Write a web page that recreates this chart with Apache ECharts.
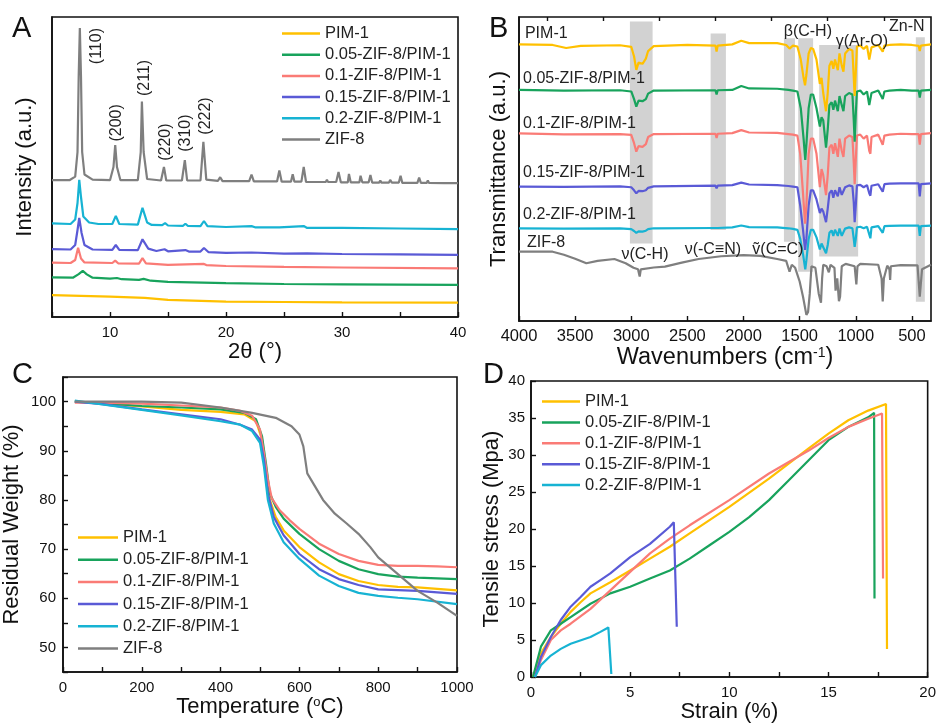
<!DOCTYPE html>
<html><head><meta charset="utf-8">
<script src="https://cdn.jsdelivr.net/npm/echarts@6/dist/echarts.min.js"></script>
<style>html,body{margin:0;padding:0;background:#fff}#c{width:939px;height:727px}</style>
</head><body><div id="c"></div>
<script>
// ---------- DATA ----------
const seriesNames = ['PIM-1','0.05-ZIF-8/PIM-1','0.1-ZIF-8/PIM-1','0.15-ZIF-8/PIM-1','0.2-ZIF-8/PIM-1','ZIF-8'];

// A: XRD  [2theta, intensity (a.u.)]
const xrdPIM1 = [[5,7.3],[10,6.8],[13,6.4],[15,5.7],[20,5.1],[25,5],[30,4.9],[40,4.8]];
const xrdZ005 = [[5,13.2],[6.8,13.1],[7.3,14.3],[7.65,15.4],[8.0,14.2],[8.5,13.1],[10,12.8],[10.6,13],[11,12.6],[12.5,12.4],[12.9,12.7],[13.5,12.1],[15,11.7],[20,11.3],[25,11],[30,10.9],[40,10.7]];
const xrdZ01 = [[5,18.1],[6.6,18],[7.0,19],[7.25,23.1],[7.5,19.5],[7.8,18.2],[10.2,18],[10.45,18.8],[10.7,17.9],[12.5,17.8],[12.8,19.6],[13.1,17.9],[15,17.4],[18.1,17.7],[18.3,17.3],[20,17],[25,16.7],[30,16.5],[40,16.2]];
const xrdZ015 = [[5,22.6],[6.6,22.5],[7.0,24],[7.2,29],[7.35,33],[7.55,28],[7.8,24],[8.5,22.5],[10.2,22.4],[10.5,24],[10.8,22.4],[12.4,22.3],[12.8,25.9],[13.3,22.8],[14,22],[14.7,22.6],[15,21.9],[16.5,22.3],[16.8,21.8],[17.8,21.8],[18.1,23],[18.5,21.6],[20,21.4],[22.2,21.5],[25,21.1],[27,21.2],[30,21],[35,20.9],[40,20.7]];
const xrdZ02 = [[5,31.2],[6.6,31],[7.0,32.5],[7.2,38],[7.35,45.7],[7.5,40],[7.7,33.5],[8.2,31.5],[9,31],[10.2,31],[10.5,33.7],[10.8,31],[12.4,30.8],[12.8,36.4],[13.2,31.5],[13.6,30.7],[14.5,30.6],[14.75,31.3],[15,30.5],[16.3,30.4],[16.5,31.1],[16.7,30.4],[17.8,30.3],[18.1,32],[18.4,30.3],[20,30],[22.2,30.3],[22.5,29.9],[24.6,29.9],[26.7,30.3],[27,29.7],[30,29.7],[35,29.5],[40,29.3]];
const xrdZIF8 = [[5,45.6],[6.5,45.6],[7.0,46.8],[7.2,55],[7.3,80],[7.4,96.3],[7.5,80],[7.6,55],[7.8,47.5],[8.5,45.8],[10.0,45.6],[10.3,50],[10.45,57.3],[10.6,50],[10.9,45.6],[12.4,45.6],[12.65,55],[12.75,71.8],[12.9,55],[13.2,46],[14.4,45.5],[14.65,50],[14.85,45.5],[16.2,45.5],[16.45,52.3],[16.65,45.5],[17.8,45.5],[18.05,58.4],[18.3,45.8],[19.3,45.4],[19.5,46.6],[19.7,45.3],[22.0,45.3],[22.2,47.5],[22.4,45.2],[23.4,45.2],[23.5,45.8],[23.6,45.2],[24.4,45.2],[24.6,48.8],[24.8,45.1],[25.6,45.1],[25.75,47.6],[25.9,45.1],[26.5,45.1],[26.7,50],[26.9,45],[28.6,45],[28.7,45.7],[28.8,45],[29.5,45],[29.7,48.3],[29.9,44.9],[30.5,44.9],[30.6,47.7],[30.75,44.9],[31.5,44.9],[31.6,47.1],[31.75,44.9],[32.3,44.9],[32.45,47.3],[32.6,44.8],[33.2,44.8],[33.3,45.5],[33.4,44.8],[34.05,44.8],[34.15,45.7],[34.3,44.8],[34.9,44.8],[35.05,47.1],[35.2,44.7],[36.5,44.7],[36.65,46.5],[36.8,44.7],[37.3,44.7],[37.4,45.5],[37.5,44.7],[38.8,44.6],[38.9,45.2],[39.0,44.6],[39.5,44.6],[39.6,45.2],[39.7,44.6],[40,44.6]];
const xrdPeakLabels = [['(110)',8.88,90.3],['(200)',10.6,64.7],['(211)',13.0,79.7],['(220)',14.83,58.3],['(310)',16.55,61.3],['(222)',18.28,67]];

// B: FTIR  [wavenumber, transmittance (a.u.)]
const irPIM1 = [[4000,91],[3700,90.8],[3580,89.8],[3450,90.5],[3100,90.7],[3000,90.2],[2975,87],[2955,82.6],[2935,85],[2900,84.6],[2870,86.3],[2850,88.8],[2800,90.4],[2500,90.8],[2250,90.6],[2240,88.6],[2230,90.6],[2100,91],[2020,92.2],[1950,91.4],[1700,91.4],[1620,90.8],[1590,89.6],[1560,90.6],[1520,90.3],[1490,86],[1465,80],[1452,77.5],[1440,81],[1420,88],[1400,89.8],[1380,89.5],[1350,86],[1320,78],[1305,80],[1290,75],[1265,69],[1250,75],[1235,84],[1215,85.5],[1200,83],[1185,86],[1160,82.5],[1145,88],[1125,84],[1110,82],[1095,88],[1060,89.5],[1030,89],[1018,80],[1010,74],[1000,82],[990,90.3],[960,90.6],[930,89.5],[900,90.5],[880,86],[870,85.5],[860,90],[800,90.8],[760,88.6],[745,90.6],[700,90.8],[600,91],[500,90.8],[440,90.5],[430,88.8],[420,90.6],[330,91]];
const irZ005 = [[4000,76],[3600,75.8],[3100,75.9],[3000,75.5],[2975,73],[2955,70.5],[2935,72.5],[2900,72.3],[2870,73],[2850,74.8],[2800,75.8],[2250,75.9],[2240,74.5],[2230,75.9],[2100,76],[2020,77.3],[1950,76.5],[1700,76.4],[1600,76],[1560,75.8],[1520,75.5],[1490,70],[1465,60],[1450,53],[1440,58],[1420,70],[1400,74.5],[1380,74.5],[1350,70],[1320,64],[1305,67],[1290,66],[1265,57],[1250,63],[1235,71],[1215,72],[1200,69.5],[1185,72.5],[1160,69],[1145,74],[1125,71],[1110,69],[1095,74],[1060,75],[1030,74.5],[1018,66],[1010,59],[1000,68],[990,75.5],[960,75.8],[930,74.5],[900,75.5],[880,71],[870,70.5],[860,75],[800,75.8],[760,73],[745,75.5],[700,75.8],[600,76],[500,75.8],[440,75.8],[430,73.5],[420,75.8],[330,76]];
const irZ01 = [[4000,61.7],[3600,61.4],[3100,61.5],[3000,61.2],[2975,58.5],[2955,55.7],[2935,57.5],[2900,57.3],[2870,58.2],[2850,60.5],[2800,61.5],[2250,61.6],[2240,60.2],[2230,61.6],[2100,61.8],[2020,62.8],[1950,62],[1700,61.9],[1600,61.5],[1560,61.3],[1520,61],[1495,55],[1470,42],[1452,32],[1440,38],[1420,55],[1400,60],[1380,60],[1350,55],[1320,44],[1305,50],[1290,48],[1265,41.4],[1250,48],[1235,57],[1215,58],[1200,55],[1185,58.5],[1160,54],[1145,60],[1125,56],[1110,54],[1095,60],[1060,61],[1030,60.5],[1018,52],[1010,45],[1000,53],[990,61],[960,61.3],[930,60],[900,61],[880,56],[870,55],[860,60.5],[800,61.3],[760,58],[745,61],[700,61.3],[600,61.6],[500,61.5],[440,61.5],[430,58],[420,61.5],[330,61.8]];
const irZ015 = [[4000,44.2],[3600,44.1],[3100,44.3],[3000,44],[2975,43],[2955,42],[2935,42.8],[2900,42.7],[2870,43],[2850,43.8],[2800,44.3],[2250,44.5],[2240,43.6],[2230,44.5],[2100,44.7],[2020,45.5],[1950,44.9],[1700,44.7],[1600,44.4],[1560,44.2],[1520,44],[1495,38],[1470,30],[1452,23.4],[1440,27],[1420,38],[1400,43],[1380,43],[1350,40],[1320,35.5],[1305,37],[1290,36],[1265,32.5],[1250,37],[1235,42],[1215,43],[1200,40.5],[1185,43],[1160,41],[1145,44],[1125,41.5],[1110,41],[1095,44],[1060,44.6],[1030,44.3],[1018,39],[1010,32.5],[1000,38],[990,44.6],[960,44.8],[930,44],[900,44.7],[880,42],[870,41.2],[860,44.5],[800,45],[760,42.5],[745,45],[700,45.2],[600,45.3],[500,45.3],[440,45.3],[430,41],[420,45],[330,45.3]];
const irZ02 = [[4000,30.5],[3600,30.4],[3100,30.5],[3000,30.2],[2975,29.6],[2955,29],[2935,29.5],[2900,29.4],[2870,29.7],[2850,30.2],[2800,30.5],[2250,30.6],[2240,30],[2230,30.6],[2100,30.8],[2020,31.4],[1950,30.9],[1700,30.8],[1600,30.5],[1560,30.3],[1520,30],[1495,27],[1470,22],[1450,17],[1440,20],[1420,27],[1400,30],[1380,30],[1350,27.5],[1320,23.5],[1305,25.5],[1290,25],[1265,22.3],[1250,25],[1235,29],[1215,29.8],[1200,28],[1185,30],[1160,28],[1145,30.4],[1125,28],[1110,27.5],[1095,30.4],[1060,30.8],[1030,30.5],[1018,27],[1010,24.4],[1000,27],[990,30.8],[960,31],[930,30.5],[900,31],[880,28.5],[870,27.2],[860,30.8],[800,31.2],[760,29],[745,31.2],[700,31.3],[600,31.4],[500,31.4],[440,31.4],[430,28],[420,31.2],[330,31.4]];
const irZIF8 = [[4000,22.8],[3700,22.8],[3600,21.8],[3500,20.5],[3400,19],[3300,19.8],[3150,20.4],[3050,19],[2980,17.5],[2940,17],[2925,14.6],[2915,17],[2800,17.6],[2700,17.9],[2550,19.2],[2400,20.4],[2200,21.3],[2000,21.7],[1850,21.4],[1700,20.4],[1620,19.8],[1590,16.2],[1570,18.5],[1540,17.5],[1500,13],[1470,8],[1440,2],[1425,3],[1410,9],[1395,18],[1360,17.5],[1330,9],[1310,6],[1300,14],[1290,18.5],[1260,18],[1240,16],[1225,18.5],[1190,17.5],[1180,10],[1165,14],[1150,6.5],[1140,8],[1125,18],[1090,18.8],[1010,18],[995,12],[985,18],[960,18.8],[800,18.5],[770,14],[760,6.4],[750,14],[720,18.2],[700,17],[694,13.5],[688,18],[600,18.4],[450,18.3],[430,8],[421,7.5],[410,17],[330,18.5]];
const irTickValues = [4000,3500,3000,2500,2000,1500,1000,500];
const irMinorTickValues = [3750,3250,2750,2250,1750,1250,750];
// [x1, x2, yBottom, yTop]
const irBands = [[3012,2810,25.5,98.5],[2293,2157,29.9,94.6],[1640,1542,26.1,93],[1513,1380,16.2,93],[1326,979,21.2,90.8],[465,385,6.3,93.3]];
// [text, wavenumber, y, anchor]
const irLabels = [['PIM-1',3947,94.7,'left'],['0.05-ZIF-8/PIM-1',3964,79.9,'left'],['0.1-ZIF-8/PIM-1',3964,65.1,'left'],['0.15-ZIF-8/PIM-1',3964,48.7,'left'],['0.2-ZIF-8/PIM-1',3964,34.9,'left'],['ZIF-8',3929,25.7,'left'],
  ['ν(C-H)',2878,21.7,'center'],['ν(-C≡N)',2273,23.4,'center'],['ṽ(C=C)',1694,23.4,'center'],['β(C-H)',1427,95.1,'center'],['γ(Ar-O)',946,91.8,'center'],['Zn-N',545,96.7,'center']];

// C: TGA [temperature, residual weight %]
const tgaPIM1 = [[30,100],[100,99.6],[200,99],[300,98.3],[400,97.9],[460,97.4],[490,96],[505,92.3],[515,86.1],[525,80],[540,76.5],[560,73.8],[600,70.4],[650,67.3],[700,64.9],[750,63.5],[800,62.7],[850,62.3],[900,62.2],[1000,61.6]];
const tgaZ005 = [[30,100],[100,99.7],[200,99.1],[300,98.8],[400,98.4],[460,97.7],[490,96.4],[505,93],[515,87.5],[525,81.3],[540,78.6],[560,76.2],[600,73.1],[650,70],[700,67.6],[750,65.9],[800,64.9],[850,64.4],[900,64.2],[1000,63.9]];
const tgaZ01 = [[30,99.8],[100,99.8],[200,99.6],[300,99.2],[400,98.8],[450,98.1],[480,97.1],[500,94.3],[510,89.5],[520,84.1],[530,80.3],[550,77.9],[575,75.9],[600,74.1],[650,71.1],[700,69],[750,67.6],[800,66.8],[850,66.6],[900,66.6],[950,66.5],[1000,66.3]];
const tgaZ015 = [[30,100],[100,99.5],[200,98.4],[300,97.4],[400,96.4],[450,95.3],[480,94.3],[500,92.3],[510,88.2],[520,81.3],[535,76.5],[560,72.8],[600,69],[650,65.9],[700,63.9],[750,62.7],[800,61.8],[900,61.5],[1000,60.9]];
const tgaZ02 = [[30,100.2],[100,99.4],[200,98.3],[300,97.2],[400,96],[450,95.3],[480,94],[500,91.6],[510,86.8],[520,80],[535,75.2],[560,71.4],[600,68],[650,64.6],[700,62.5],[750,61.1],[800,60.5],[850,60.1],[900,59.8],[1000,58.8]];
const tgaZIF8 = [[30,100],[100,100],[200,100],[300,99.8],[400,98.8],[480,97.7],[540,96.7],[580,95],[600,93.3],[610,90.9],[620,85.4],[640,82.7],[660,80],[690,77.2],[720,75.2],[750,73.1],[780,70.4],[800,68.3],[850,64.9],[900,61.5],[950,59.1],[1000,56.4]];

// D: tensile [strain %, stress MPa]
const tenPIM1 = [[0.1,0],[0.5,3.2],[1,5.4],[1.5,7.2],[2,8.8],[2.5,10.1],[3,11.3],[4,12.8],[5,14.4],[6,16],[7,17.6],[8,19.4],[10,23],[12,26.8],[14,30.9],[15,32.9],[16,34.7],[17,36],[17.9,36.9],[17.95,3.8]];
const tenZ005 = [[0.1,0],[0.5,4.1],[1,6.3],[1.5,7.2],[2,8.1],[3,9.9],[4,11.3],[5,12.2],[6,13.3],[7,14.4],[8,16],[9,17.8],[10,19.6],[11,21.6],[12,23.9],[13,26.6],[14,29.3],[15,32],[16,33.8],[17,35.1],[17.3,35.7],[17.32,10.6]];
const tenZ01 = [[0.2,0],[0.5,2.3],[1,5],[1.5,6.3],[2,7.2],[3,9.2],[4,11.7],[5,14.2],[6,16.7],[7,18.7],[8,20.5],[10,23.9],[12,27.5],[14,30.6],[15,32.3],[16,33.8],[17,34.9],[17.7,35.6],[17.75,13.3]];
const tenZ015 = [[0.2,0],[0.5,2.7],[1,5.4],[1.5,7.7],[2,9.5],[2.5,10.8],[3,12.2],[3.5,13.1],[4,14],[5,16.2],[6,18],[7,20.3],[7.2,20.9],[7.35,6.8]];
const tenZ02 = [[0.2,0],[0.5,1.6],[1,2.9],[1.5,3.8],[2,4.5],[3,5.4],[3.5,6.1],[3.9,6.7],[4.05,0.4]];

// ---------- STYLE / LAYOUT ----------
const COLORS = ['#FFC000','#18A35C','#FA7B76','#5A5AD6','#17B3D3','#7F7F7F'];
const FONT = '"Liberation Sans", Arial, sans-serif';
const INK = '#111';
const chart = echarts.init(document.getElementById('c'), null, {renderer:'canvas'});

const grids = [
  {left:52, top:17, width:406, height:300},
  {left:519, top:17, width:412, height:304},
  {left:62, top:377, width:395, height:295},
  {left:531, top:381, width:401, height:296}
].map(g => Object.assign({show:true, borderColor:INK, borderWidth:1.6, backgroundColor:'transparent', containLabel:false}, g));

const plain = v => String(v);
const axisCommon = {
  axisLine:{show:true, onZero:false, lineStyle:{color:INK, width:1.6}},
  axisTick:{show:true, inside:true, length:5, lineStyle:{color:INK, width:1.4}},
  axisLabel:{color:INK, fontSize:15, fontFamily:FONT, formatter:plain},
  splitLine:{show:false},
  nameTextStyle:{color:INK, fontSize:22, fontFamily:FONT},
  nameLocation:'middle'
};
function ax(extra){ return echarts.util.merge(echarts.util.clone(axisCommon), extra, true); }

const xAxes = [
  ax({type:'value', gridIndex:0, min:5, max:40, interval:5, name:'2θ (°)', nameGap:22,
      axisLabel:{margin:8, formatter:v => (v % 10 === 0 ? String(v) : '')}}),
  ax({type:'value', gridIndex:1, min:330, max:4000, inverse:true, name:'Wavenumbers (cm{sup|-1})', nameGap:22,
      nameTextStyle:{fontSize:23.5, rich:{sup:{fontSize:14, fontFamily:FONT, color:INK, padding:[0,0,10,0]}}},
      axisTick:{customValues:irTickValues}, axisLabel:{customValues:irTickValues, margin:7, fontSize:16.5}}),
  ax({type:'value', gridIndex:2, min:0, max:1000, interval:200, name:'Temperature ({sup|o}C)', nameGap:22,
      nameTextStyle:{rich:{sup:{fontSize:13, fontFamily:FONT, color:INK, padding:[0,0,10,0]}}},
      minorTick:{show:true, splitNumber:2, length:5, lineStyle:{color:INK, width:1.4}}, axisLabel:{margin:8}}),
  ax({type:'value', gridIndex:3, min:0, max:20, interval:5, name:'Strain (%)', nameGap:22,
      minorTick:{show:true, splitNumber:2, length:5, lineStyle:{color:INK, width:1.4}}, axisLabel:{margin:8}}),
  // minor ticks for B
  ax({type:'value', gridIndex:1, min:330, max:4000, inverse:true, axisLine:{show:false},
      axisTick:{customValues:irMinorTickValues, length:4}, axisLabel:{show:false}})
];
const yAxes = [
  ax({type:'value', gridIndex:0, min:0, max:100, name:'Intensity (a.u.)', nameGap:16,
      axisTick:{show:false}, axisLabel:{show:false}}),
  ax({type:'value', gridIndex:1, min:0, max:100, name:'Transmittance (a.u.)', nameGap:9,
      axisTick:{show:false}, axisLabel:{show:false}}),
  ax({type:'value', gridIndex:2, min:45, max:105, interval:5, name:'Residual Weight (%)', nameGap:40,
      axisLabel:{margin:7, formatter:v => (v % 10 === 0 ? String(v) : '')}}),
  ax({type:'value', gridIndex:3, min:0, max:40, interval:5, name:'Tensile stress (Mpa)', nameGap:28,
      axisLabel:{margin:6}})
];

function line(name, data, gi, z){
  const c = COLORS[seriesNames.indexOf(name)];
  return {type:'line', name, data, xAxisIndex:gi, yAxisIndex:gi, symbol:'none', showSymbol:false,
    lineStyle:{width:2.2, color:c}, itemStyle:{color:c}, z:z||3, animation:false, silent:true, clip:true};
}

const series = [];
// A
const sA = [xrdPIM1, xrdZ005, xrdZ01, xrdZ015, xrdZ02, xrdZIF8];
sA.forEach((d,i) => series.push(line(seriesNames[i], d, 0)));
series[series.length-1].markPoint = {
  symbol:'circle', symbolSize:0, silent:true, animation:false,
  label:{show:true, position:'inside', rotate:90, fontSize:16, fontFamily:FONT, color:'#222', formatter:p => p.name},
  data: xrdPeakLabels.map(([t,x,y]) => ({name:t, coord:[x,y]}))
};
// B bands
series.push({type:'line', name:'bands', data:[], xAxisIndex:1, yAxisIndex:1, z:1, silent:true, animation:false,
  markArea:{silent:true, animation:false, itemStyle:{color:'#d2d2d2'},
    data: irBands.map(([x1,x2,y1,y2]) => [{coord:[x1,y2]},{coord:[x2,y1]}])}});
// B lines (PIM-1 on top)
const sB = [irPIM1, irZ005, irZ01, irZ015, irZ02, irZIF8];
for (let i = 5; i >= 0; i--) series.push(line(seriesNames[i], sB[i], 1, 3 + (5 - i) * 0.01));
series[series.length-1].markPoint = {
  symbol:'circle', symbolSize:0, silent:true, animation:false,
  data: irLabels.map(([t,x,y,a]) => ({name:t, coord:[x,y],
    label:{show:true, position: a === 'left' ? 'right' : 'inside', distance:0, fontSize:16, fontFamily:FONT, color:'#222', formatter:p => p.name}}))
};
// C
const sC = [tgaPIM1, tgaZ005, tgaZ01, tgaZ015, tgaZ02, tgaZIF8];
sC.forEach((d,i) => series.push(line(seriesNames[i], d, 2)));
// D
const sD = [tenPIM1, tenZ005, tenZ01, tenZ015, tenZ02];
sD.forEach((d,i) => series.push(line(seriesNames[i], d, 3)));

const legendBase = {orient:'vertical', icon:'rect', itemHeight:2.5, padding:0, selectedMode:false,
  textStyle:{fontSize:16.5, fontFamily:FONT, color:'#222'}};
const legends = [
  Object.assign({}, legendBase, {left:282, top:25, itemWidth:38, itemGap:4.2, data:seriesNames.slice()}),
  Object.assign({}, legendBase, {left:78, top:529, itemWidth:40, itemGap:5.2, data:seriesNames.slice()}),
  Object.assign({}, legendBase, {left:542, top:393, itemWidth:38, itemGap:3.9, data:seriesNames.slice(0,5)})
];

const letters = [['A',12,14],['B',489,14],['C',12,360],['D',483,360]];
chart.setOption({
  animation:false,
  backgroundColor:'#fff',
  textStyle:{fontFamily:FONT},
  grid: grids,
  xAxis: xAxes,
  yAxis: yAxes,
  legend: legends,
  series: series,
  graphic: letters.map(([t,x,y]) => ({type:'text', left:x, top:y, style:{text:t, fontSize:29, fontFamily:FONT, fill:INK}}))
});
</script></body></html>
